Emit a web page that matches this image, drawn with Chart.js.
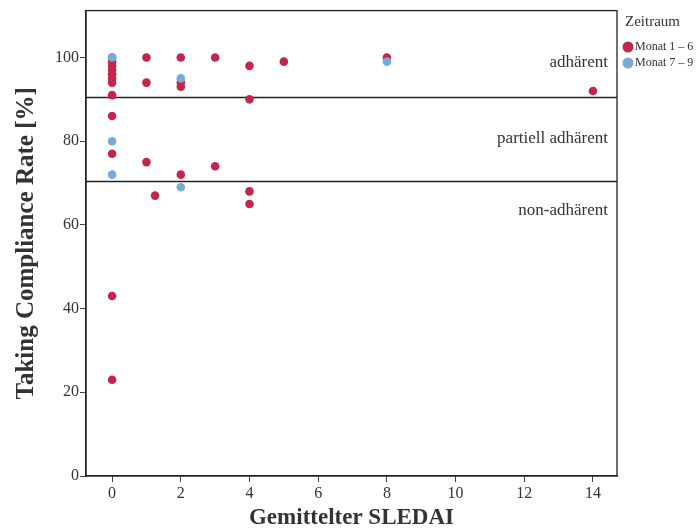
<!DOCTYPE html>
<html>
<head>
<meta charset="utf-8">
<script src="https://cdn.jsdelivr.net/npm/chart.js@4.4.0/dist/chart.umd.min.js"></script>
<style>
  html, body { margin: 0; padding: 0; background: #fff; }
  #wrap { width: 696px; height: 532px; }
</style>
</head>
<body>
<div id="wrap"><canvas id="chart" width="696" height="532"></canvas></div>
<script>
// Data
const redX = [0, 0, 0, 0, 0, 0, 0, 0, 0, 0, 0, 0, 1, 1, 1, 1.25, 2, 2, 2, 2, 3, 3, 4, 4, 4, 4, 5, 8, 14];
const redY = [100, 99, 98, 97, 96, 95, 94, 91, 86, 77, 43, 23, 100, 94, 75, 67, 100, 94, 93, 72, 100, 74, 98, 90, 68, 65, 99, 100, 92];
const blueX = [0, 0, 0, 2, 2, 8];
const blueY = [100, 80, 72, 95, 69, 99];
const seriesLabels = ["Monat 1 – 6", "Monat 7 – 9"];
const xTicks = [0, 2, 4, 6, 8, 10, 12, 14];
const yTicks = [0, 20, 40, 60, 80, 100];
const thresholds = [90.5, 70.5];
const zoneLabels = ["adhärent", "partiell adhärent", "non-adhärent"];
const zoneLabelY = [98.8, 80.7, 63.5];

const colors = ["#C1264B", "#79A9D7"];
const serif = '"Liberation Serif", "DejaVu Serif", serif';

const toPoints = (xs, ys) => xs.map((x, i) => ({ x: x, y: ys[i] }));

// Frame, threshold lines, zone labels and legend
const overlay = {
  id: "overlay",
  beforeDatasetsDraw(chart) {
    const { ctx, chartArea, scales } = chart;
    ctx.save();
    ctx.strokeStyle = "#222";
    ctx.lineWidth = 1.3;
    thresholds.forEach((t) => {
      const y = Math.round(scales.y.getPixelForValue(t)) + 0.5;
      ctx.beginPath();
      ctx.moveTo(chartArea.left, y);
      ctx.lineTo(chartArea.right, y);
      ctx.stroke();
    });
    ctx.fillStyle = "#333";
    ctx.font = "17px " + serif;
    ctx.textAlign = "right";
    ctx.textBaseline = "middle";
    zoneLabels.forEach((txt, i) => {
      ctx.fillText(txt, chartArea.right - 9, scales.y.getPixelForValue(zoneLabelY[i]));
    });
    ctx.restore();
  },
  afterDraw(chart) {
    const { ctx, chartArea } = chart;
    ctx.save();
    ctx.strokeStyle = "#222";
    ctx.lineWidth = 1.3;
    ctx.strokeRect(chartArea.left, chartArea.top, chartArea.right - chartArea.left, chartArea.bottom - chartArea.top);

    // Legend
    const lx = chartArea.right + 8;
    ctx.fillStyle = "#333";
    ctx.font = "15px " + serif;
    ctx.textAlign = "left";
    ctx.textBaseline = "middle";
    ctx.fillText("Zeitraum", lx, 22);
    ctx.font = "12px " + serif;
    seriesLabels.forEach((lab, i) => {
      const y = 47 + i * 16;
      ctx.fillStyle = colors[i];
      ctx.beginPath();
      ctx.arc(lx + 3, y, 5.5, 0, Math.PI * 2);
      ctx.fill();
      ctx.fillStyle = "#333";
      ctx.fillText(lab, lx + 10, y);
    });
    ctx.restore();
  },
};

new Chart(document.getElementById("chart"), {
  type: "scatter",
  data: {
    datasets: [
      {
        label: seriesLabels[0],
        data: toPoints(redX, redY),
        backgroundColor: colors[0],
        pointRadius: 4.3,
        borderWidth: 0,
        order: 2,
      },
      {
        label: seriesLabels[1],
        data: toPoints(blueX, blueY),
        backgroundColor: colors[1],
        pointRadius: 4.3,
        borderWidth: 0,
        order: 1,
      },
    ],
  },
  options: {
    responsive: false,
    animation: false,
    layout: { padding: { top: 8, right: 79, left: 0, bottom: 0 } },
    plugins: { legend: { display: false }, tooltip: { enabled: false } },
    scales: {
      x: {
        type: "linear",
        min: -0.76,
        max: 14.7,
        afterBuildTicks: (scale) => {
          scale.ticks = xTicks.map((v) => ({ value: v }));
        },
        afterFit: (scale) => {
          scale.height = 56;
        },
        grid: { display: true, drawOnChartArea: false, drawTicks: true, tickLength: 6, color: "#444" },
        border: { display: true, color: "#222", width: 1.3 },
        ticks: { color: "#333", font: { family: serif, size: 16 }, padding: 2 },
        title: {
          display: true,
          text: "Gemittelter SLEDAI",
          color: "#333",
          font: { family: serif, size: 23, weight: "bold" },
          padding: { top: 2, bottom: 0 },
        },
      },
      y: {
        type: "linear",
        min: 0,
        max: 111.2,
        afterBuildTicks: (scale) => {
          scale.ticks = yTicks.map((v) => ({ value: v }));
        },
        afterFit: (scale) => {
          scale.width = 86;
        },
        grid: { display: true, drawOnChartArea: false, drawTicks: true, tickLength: 6, color: "#444" },
        border: { display: true, color: "#222", width: 1.3 },
        ticks: { color: "#333", font: { family: serif, size: 16 }, padding: 1 },
        title: {
          display: true,
          text: "Taking Compliance Rate [%]",
          color: "#333",
          font: { family: serif, size: 25, weight: "bold" },
          padding: { top: 12, bottom: 4 },
        },
      },
    },
  },
  plugins: [overlay],
});
</script>
</body>
</html>
